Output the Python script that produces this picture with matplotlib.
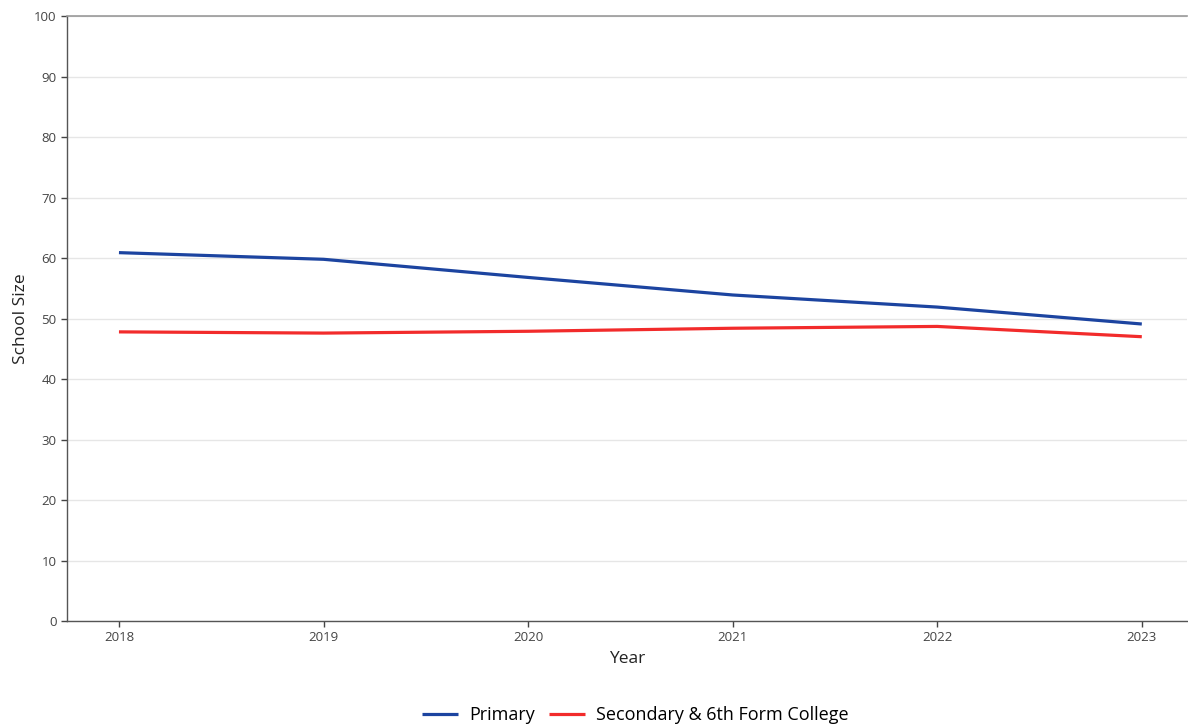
import matplotlib.pyplot as plt
import numpy as np

plt.rcParams['font.family'] = ['Open Sans', 'DejaVu Sans']

# dane
years = np.array([2018, 2019, 2020, 2021, 2022, 2023])
primary = np.array([60.9, 59.8, 56.8, 53.9, 51.9, 49.1])
secondary = np.array([47.8, 47.6, 47.9, 48.4, 48.7, 47.0])
y_ticks = [0, 10, 20, 30, 40, 50, 60, 70, 80, 90, 100]

fig = plt.figure(figsize=(11.88, 7.27), dpi=100)
ax = fig.add_axes([0.0564, 0.1458, 0.9426, 0.832])

ax.plot(years, primary, color="#1c44a0", linewidth=2.3, label="Primary", solid_capstyle='butt')
ax.plot(years, secondary, color="#f22b2b", linewidth=2.3, label="Secondary & 6th Form College", solid_capstyle='butt')

ax.set_xlim(2017.746, 2023.22)
ax.set_ylim(0, 100)
ax.set_xticks(years)
ax.set_yticks(y_ticks)
ax.tick_params(axis='both', labelsize=9.5, colors="#444444", length=4, width=1)
ax.grid(axis='y', color="#e6e6e6", linewidth=1)
ax.set_axisbelow(True)
ax.spines['right'].set_visible(False)
ax.spines['top'].set_color("#999999")
ax.spines['top'].set_linewidth(1.2)
for s in ['left', 'bottom']:
    ax.spines[s].set_color("#555555")
    ax.spines[s].set_linewidth(1)

ax.set_xlabel("Year", fontsize=12.5, color="#222222", labelpad=5)
ax.set_ylabel("School Size", fontsize=12.5, color="#222222")

fig.legend(loc='lower center', bbox_to_anchor=(0.535, -0.018), ncol=2, frameon=False,
           fontsize=13, handlelength=2, columnspacing=0.8, handletextpad=0.6)

plt.savefig("out.png", dpi=100)
